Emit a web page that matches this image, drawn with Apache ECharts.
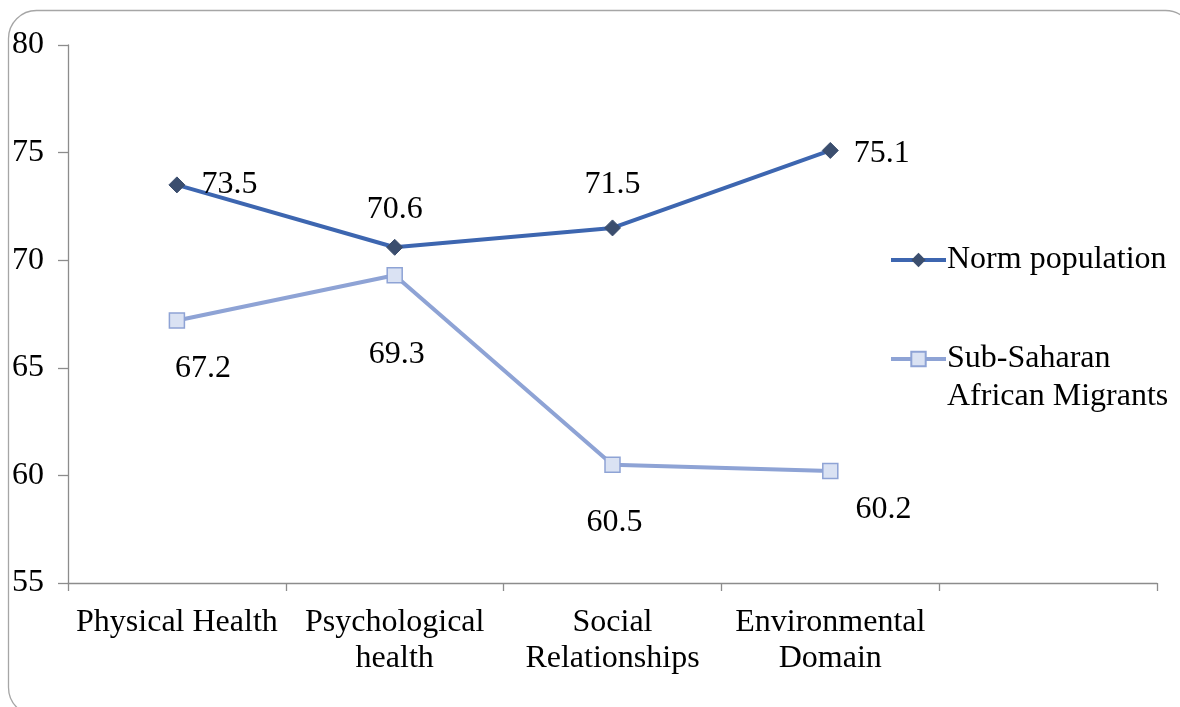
<!DOCTYPE html>
<html>
<head>
<meta charset="utf-8">
<script src="https://cdn.jsdelivr.net/npm/echarts@6/dist/echarts.min.js"></script>
<style>
  html, body { margin: 0; padding: 0; background: #fff; }
  #chart { width: 1180px; height: 707px; }
</style>
</head>
<body>
<div id="chart"></div>
<script>
// Domains (the fifth slot is left empty, the legend sits beside it)
const categories = ['Physical Health', 'Psychological\nhealth', 'Social\nRelationships', 'Environmental\nDomain', ''];
const normPopulation = [73.5, 70.6, 71.5, 75.1];
const migrants = [67.2, 69.3, 60.5, 60.2];
const seriesNames = ['Norm population', 'Sub-Saharan\nAfrican Migrants'];
const yTicks = { min: 55, max: 80, interval: 5 };

const FONT = '"Liberation Serif", "Times New Roman", serif';
const FS = 32;
const labelText = { fontFamily: FONT, fontSize: FS, color: '#000' };

// per-point label placement for each line
const normLabelPlace = [
  { position: 'right', offset: [11, 0] },
  { position: 'top', offset: [0, -8] },
  { position: 'top', offset: [0, -14] },
  { position: 'right', offset: [10, 3] }
];
const migrantLabelPlace = [
  { position: 'bottom', offset: [26, 19] },
  { position: 'bottom', offset: [2, 50] },
  { position: 'bottom', offset: [2, 29] },
  { position: 'right', offset: [12, 38] }
];

function withLabels(values, places) {
  return values.map((v, i) => ({
    value: v,
    label: Object.assign({ show: true, formatter: (p) => p.value.toFixed(1) }, labelText, places[i])
  }));
}

const legendText = { fontFamily: FONT, fontSize: FS, color: '#000', lineHeight: 38, padding: [0, 0, 0, -4] };
const legendBase = {
  orient: 'vertical',
  left: 889,
  padding: 0,
  itemWidth: 55,
  itemHeight: 18,
  lineStyle: { width: 4 }
};

const chart = echarts.init(document.getElementById('chart'), null, { renderer: 'canvas' });
chart.setOption({
  animation: false,
  backgroundColor: '#fff',
  grid: { left: 68, right: 23, top: 45, bottom: 124, containLabel: false },
  graphic: [{
    type: 'rect',
    shape: { x: 8.5, y: 10.5, width: 1185, height: 705, r: 28 },
    style: { fill: 'none', stroke: '#a6a6a6', lineWidth: 1.3 },
    silent: true,
    z: -1
  }],
  legend: [
    Object.assign({}, legendBase, {
      top: 241,
      data: [seriesNames[0]],
      textStyle: legendText
    }),
    Object.assign({}, legendBase, {
      top: 302,
      data: [seriesNames[1]],
      // an empty leading line keeps the first text line level with the icon
      formatter: (name) => '{gap| }\n' + name.split('\n').map((s) => '{t|' + s + '}').join('\n'),
      textStyle: Object.assign({}, legendText, {
        rich: {
          gap: { fontFamily: FONT, fontSize: FS, lineHeight: 38 },
          t: { fontFamily: FONT, fontSize: FS, color: '#000', lineHeight: 38 }
        }
      })
    })
  ],
  xAxis: {
    type: 'category',
    data: categories,
    boundaryGap: true,
    axisLine: { lineStyle: { color: '#8c8c8c', width: 1.3 } },
    axisTick: { show: true, length: 8, lineStyle: { color: '#8c8c8c', width: 1.3 } },
    axisLabel: { fontFamily: FONT, fontSize: FS, color: '#000', margin: 22, lineHeight: 36, interval: 0 },
    splitLine: { show: false }
  },
  yAxis: {
    type: 'value',
    min: yTicks.min,
    max: yTicks.max,
    interval: yTicks.interval,
    axisLine: { show: true, lineStyle: { color: '#8c8c8c', width: 1.3 } },
    axisTick: { show: true, length: 10, lineStyle: { color: '#8c8c8c', width: 1.3 } },
    axisLabel: { fontFamily: FONT, fontSize: FS, color: '#000', margin: 24 },
    splitLine: { show: false }
  },
  series: [
    {
      name: seriesNames[0],
      type: 'line',
      data: withLabels(normPopulation, normLabelPlace),
      symbol: 'diamond',
      symbolSize: 16,
      lineStyle: { color: '#3d66b0', width: 4 },
      itemStyle: { color: '#3b4e6e', borderColor: '#3b4e6e' },
      color: '#3d66b0'
    },
    {
      name: seriesNames[1],
      type: 'line',
      data: withLabels(migrants, migrantLabelPlace),
      symbol: 'rect',
      symbolSize: 15,
      lineStyle: { color: '#8ea3d5', width: 4 },
      itemStyle: { color: '#dae2f3', borderColor: '#8ea3d5', borderWidth: 1.5 },
      color: '#8ea3d5'
    }
  ]
});
</script>
</body>
</html>
